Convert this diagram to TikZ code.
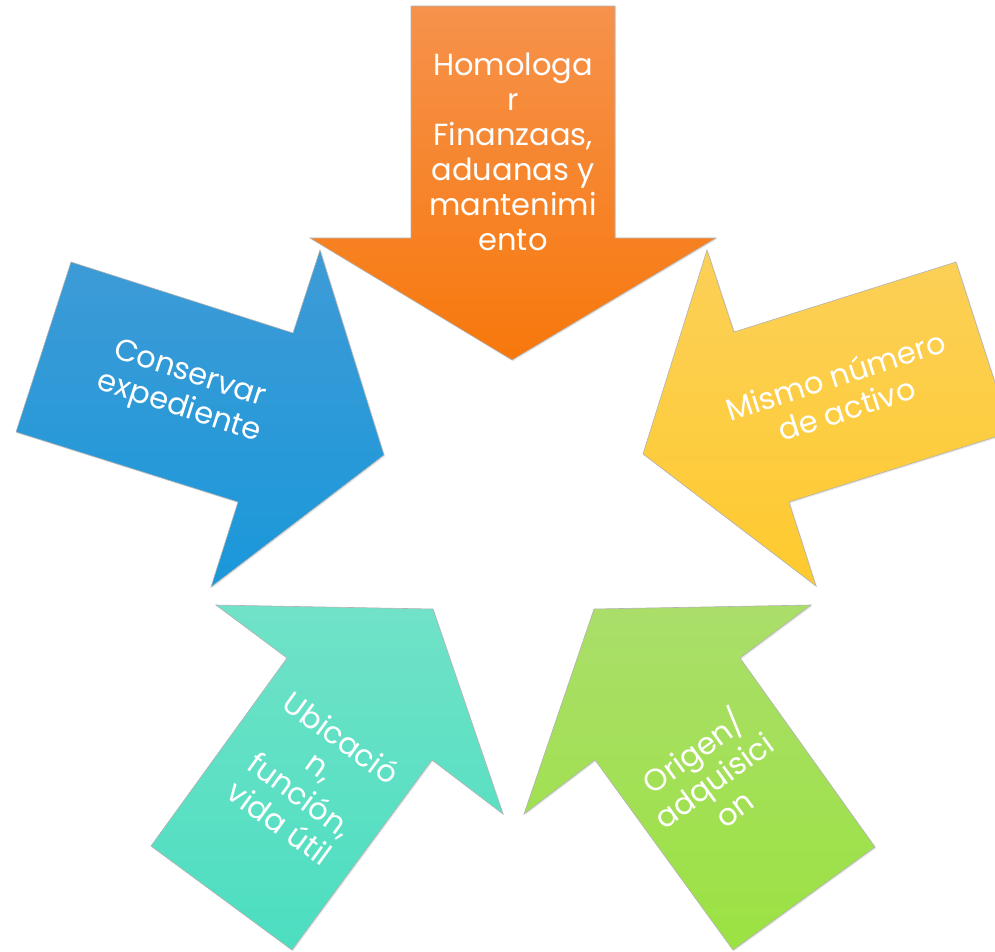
\documentclass[tikz,border=0pt]{standalone}
\usepackage{fontspec}
\setmainfont{Poppins}
\usetikzlibrary{shadows}
\definecolor{orangeTop}{RGB}{246,146,76}
\definecolor{orangeBot}{RGB}{247,120,12}
\definecolor{blueTop}{RGB}{62,155,214}
\definecolor{blueBot}{RGB}{26,152,218}
\definecolor{yellowTop}{RGB}{251,208,88}
\definecolor{yellowBot}{RGB}{255,202,46}
\definecolor{tealTop}{RGB}{112,226,200}
\definecolor{tealBot}{RGB}{76,222,192}
\definecolor{greenTop}{RGB}{170,222,106}
\definecolor{greenBot}{RGB}{155,226,66}
\tikzset{
  arrowshape/.style={draw=black!30, line width=0.6pt, line join=miter,
    drop shadow={opacity=0.18, shadow xshift=1.2pt, shadow yshift=-1.2pt}},
  label/.style={text=white, align=center, inner sep=0pt,
    font=\fontsize{30.5}{35}\selectfont}
}
\begin{document}
\begin{tikzpicture}[x=1pt,y=-1pt]
\path[use as bounding box] (0,0) rectangle (995,951);
\clip (0,0) rectangle (995,951);
% top orange arrow
\path[arrowshape, top color=orangeTop, bottom color=orangeBot]
  (411,6) -- (615,6) -- (615,238) -- (716,238) -- (512,360) -- (310,238) -- (411,238) -- cycle;
% blue arrow
\path[arrowshape, top color=blueTop, bottom color=blueBot]
  (71,262) -- (293,333) -- (320,250) -- (384,455) -- (211,587) -- (238,502) -- (16,432) -- cycle;
% yellow arrow
\path[arrowshape, top color=yellowTop, bottom color=yellowBot]
  (956,262) -- (734,332) -- (707,250) -- (643,454) -- (816,586) -- (789,502) -- (1011,432) -- cycle;
% teal arrow
\path[arrowshape, top color=tealTop, bottom color=tealBot]
  (216,605) -- (433,609) -- (503,814) -- (432,760) -- (292,950) -- (151,846) -- (287,658) -- cycle;
% green arrow
\path[arrowshape, top color=greenTop, bottom color=greenBot]
  (811,605) -- (594,609) -- (524,814) -- (595,760) -- (733,950) -- (875,847) -- (740,658) -- cycle;
% texts
\node[label] (t1) at (513,152) {Homologa\\r\\Finanzaas,\\aduanas y\\mantenimi\\ento};
\node[label, rotate=-18] (t2) at (184,392) {Conservar\\expediente};
\node[label, rotate=18] (t3) at (841,392) {Mismo número\\de activo};
\node[label, rotate=-36] (t4) at (311,780) {Ubicació\\n,\\función,\\vida útil};
\node[label, rotate=36] (t5) at (712,778) {Origen/\\adquisici\\on};
\end{tikzpicture}
\end{document}
